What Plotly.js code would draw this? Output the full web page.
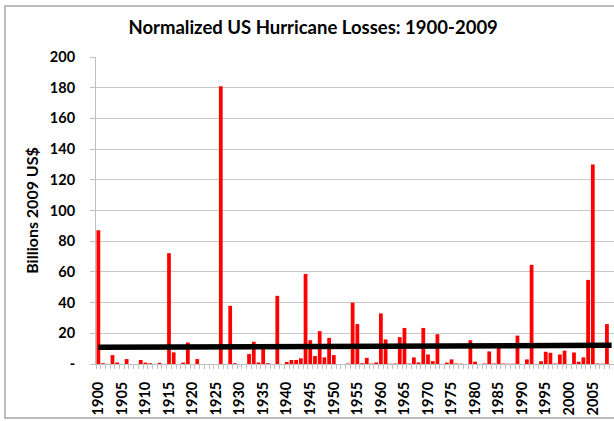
<!DOCTYPE html>
<html>
<head>
<meta charset="utf-8">
<script src="https://cdn.plot.ly/plotly-3.0.1.min.js"></script>
<style>
html,body{margin:0;padding:0;background:#fff;}
#chart{width:614px;height:421px;}
</style>
</head>
<body>
<div id="chart"></div>
<script>
// ---- data ----
var years = [1900,1901,1902,1903,1904,1905,1906,1907,1908,1909,
             1910,1911,1912,1913,1914,1915,1916,1917,1918,1919,
             1920,1921,1922,1923,1924,1925,1926,1927,1928,1929,
             1930,1931,1932,1933,1934,1935,1936,1937,1938,1939,
             1940,1941,1942,1943,1944,1945,1946,1947,1948,1949,
             1950,1951,1952,1953,1954,1955,1956,1957,1958,1959,
             1960,1961,1962,1963,1964,1965,1966,1967,1968,1969,
             1970,1971,1972,1973,1974,1975,1976,1977,1978,1979,
             1980,1981,1982,1983,1984,1985,1986,1987,1988,1989,
             1990,1991,1992,1993,1994,1995,1996,1997,1998,1999,
             2000,2001,2002,2003,2004,2005,2006,2007,2008,2009];

var losses = [87.2,0.5,0,5.8,1,0,3.2,0,0,2.6,
              0.9,0.5,0,0.8,0,72.2,7.6,0,0.9,14,
              0,3.2,0,0,0,0,181,0,37.9,0.5,
              0,0,6.5,14.5,1,9.7,0.5,0,44.4,0,
              1.3,2.6,2.6,3.7,58.7,15.5,5.2,21.4,4.3,17,
              5.8,0,0,0.3,40,26,0.5,4,0.3,1,
              33,16,0.2,0.3,17.5,23.5,0.3,4.3,1,23.5,
              6.2,1.9,19.4,0,0.9,3,0.3,0.2,0,15.5,
              1.5,0,0.3,8.2,0.3,10.6,0.3,0.2,0.2,18.5,
              0,3,64.6,0,1.8,8,7.3,0.3,6.2,8.7,
              0,7.5,1.5,4.3,54.8,130,0.3,0.2,26,0];

var trendYears = [1900, 2009];
var trendValues = [10.9, 12.2];

var xLabelYears = [1900,1905,1910,1915,1920,1925,1930,1935,1940,1945,1950,1955,1960,1965,1970,1975,1980,1985,1990,1995,2000,2005];
var yTickVals = [0,20,40,60,80,100,120,140,160,180,200];
var yTickText = ['-','20','40','60','80','100','120','140','160','180','200'];

// ---- layout geometry ----
var W = 614, H = 421;
var mL = 96, mR = 0, mT = 57, mB = 57;
var plotW = W - mL - mR, plotH = H - mT - mB;
function px2paperX(px){ return (px - mL) / plotW; }
function px2paperY(py){ return (H - mB - py) / plotH; }

var font = 'Lato, "Open Sans", "Liberation Sans", sans-serif';

var traces = [
  {
    type: 'bar',
    x: years,
    y: losses,
    marker: {color: '#FF0000', line: {width: 0}},
    hoverinfo: 'x+y',
    showlegend: false
  },
  {
    type: 'scatter',
    mode: 'lines',
    x: trendYears,
    y: trendValues,
    line: {color: '#000000', width: 5.5},
    hoverinfo: 'skip',
    showlegend: false
  }
];

var layout = {
  width: W, height: H,
  margin: {l: mL, r: mR, t: mT, b: mB, pad: 0},
  paper_bgcolor: 'rgba(0,0,0,0)',
  plot_bgcolor: 'rgba(0,0,0,0)',
  font: {family: font, color: '#000'},
  bargap: 0.2,
  title: {
    text: '<b>Normalized US Hurricane Losses: 1900-2009</b>',
    font: {family: font, size: 18.5, color: '#000'},
    x: 0.51, xref: 'container', xanchor: 'center',
    y: 1 - 28 / H, yref: 'container', yanchor: 'middle'
  },
  xaxis: {
    type: 'linear',
    range: [1899.5, 2009.5],
    tickmode: 'array',
    tickvals: xLabelYears,
    ticktext: xLabelYears.map(function(v){ return '<b>' + v + '</b>'; }),
    tickangle: -90,
    ticks: 'outside',
    ticklen: 0,
    ticklabelstandoff: 11,
    tickfont: {family: font, size: 14.5, color: '#000'},
    minor: {tick0: 1899.5, dtick: 1, ticks: 'outside', ticklen: 4, tickcolor: '#BFBFBF', tickwidth: 1, showgrid: false},
    showgrid: false,
    zeroline: false,
    showline: true,
    linecolor: '#BFBFBF',
    linewidth: 1,
    fixedrange: true
  },
  yaxis: {
    range: [0, 200],
    tickmode: 'array',
    tickvals: yTickVals,
    ticktext: yTickText.map(function(t){ return '<b>' + t + '</b>'; }),
    ticks: 'outside',
    ticklen: 5,
    tickcolor: '#BFBFBF',
    ticklabelstandoff: 12,
    tickfont: {family: font, size: 14.5, color: '#000'},
    showgrid: true,
    gridcolor: '#C8C8C8',
    gridwidth: 1,
    zeroline: false,
    showline: true,
    linecolor: '#BFBFBF',
    linewidth: 1,
    automargin: false,
    title: {
      text: '<b>Billions 2009 US$</b>',
      font: {family: font, size: 16, color: '#000'},
      standoff: 7
    },
    fixedrange: true
  },
  shapes: [
    {
      type: 'rect', xref: 'paper', yref: 'paper', layer: 'below',
      x0: px2paperX(5), x1: px2paperX(W + 20),
      y0: px2paperY(418), y1: px2paperY(6),
      line: {color: '#A6A6A6', width: 1.5},
      fillcolor: 'rgba(0,0,0,0)'
    }
  ]
};

Plotly.newPlot('chart', traces, layout, {displayModeBar: false, staticPlot: true});
</script>
</body>
</html>
